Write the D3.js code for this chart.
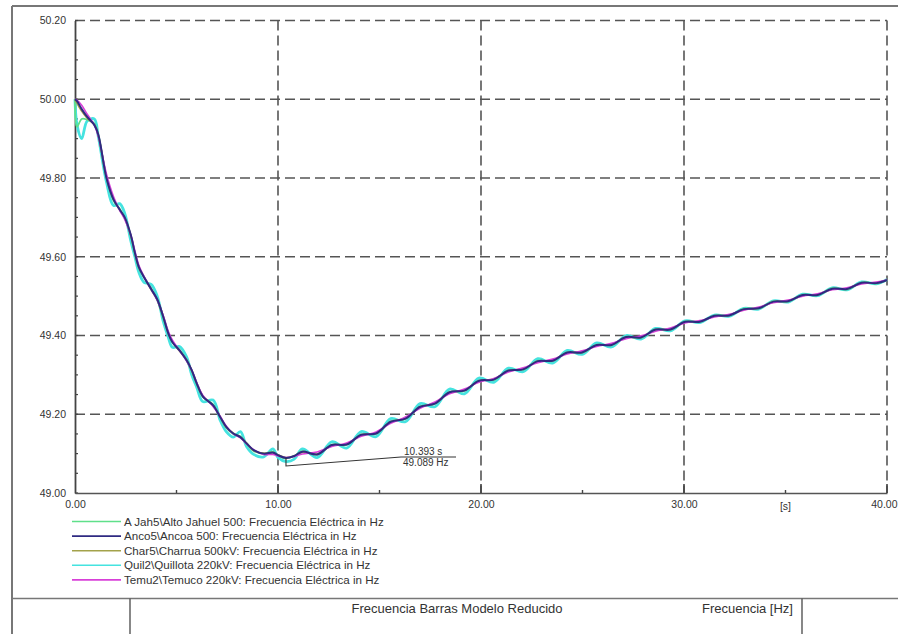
<!DOCTYPE html>
<html>
<head>
<meta charset="utf-8">
<script src="https://cdn.jsdelivr.net/npm/d3@7"></script>
<style>
  html, body { margin: 0; padding: 0; background: #fff; }
  svg { display: block; font-family: "Liberation Sans", Arial, sans-serif; }
</style>
</head>
<body>
<svg id="chart" width="898" height="634"></svg>
<script>
// Simulation time knots [s]
const timeS = [
  0, 0.1, 0.33, 0.6, 0.95, 1.15, 1.55, 1.9, 2.2, 2.45, 2.75, 2.95, 3.15, 3.4, 3.75,
  4.05, 4.35, 4.6, 4.8, 5.15, 5.5, 5.75, 6.0, 6.3, 6.8, 7.15, 7.45, 7.8, 8.15, 8.45,
  8.8, 9.3, 9.75, 10.0, 10.393, 10.8,
  11.2, 11.93, 12.65, 13.38, 14.1, 14.83, 15.55, 16.28, 17.0, 17.73, 18.45, 19.18,
  19.9, 20.63, 21.35, 22.08, 22.8, 23.53, 24.25, 24.98, 25.7, 26.43, 27.15, 27.88,
  28.6, 29.33, 30.05, 30.78, 31.5, 32.23, 32.95, 33.68, 34.4, 35.13, 35.85, 36.58,
  37.3, 38.03, 38.75, 39.48, 40.0
];

// Bus frequencies [Hz]
const freqAJah5 = [
  50.000, 49.930, 49.950, 49.948, 49.938, 49.908, 49.800, 49.742, 49.722, 49.698,
  49.652, 49.608, 49.570, 49.548, 49.520, 49.490, 49.444, 49.404, 49.382, 49.364,
  49.336, 49.310, 49.276, 49.244, 49.225, 49.192, 49.166, 49.150, 49.144, 49.125,
  49.107, 49.100, 49.105, 49.095, 49.088, 49.094,
  49.106, 49.097, 49.123, 49.122, 49.149, 49.150, 49.182, 49.188, 49.220, 49.226,
  49.257, 49.259, 49.286, 49.287, 49.312, 49.313, 49.336, 49.335, 49.358, 49.356,
  49.377, 49.375, 49.397, 49.394, 49.416, 49.414, 49.436, 49.434, 49.451, 49.450,
  49.468, 49.468, 49.487, 49.486, 49.504, 49.502, 49.520, 49.517, 49.535, 49.532, 49.541
];
const freqAnco5 = [
  50.000, 49.995, 49.975, 49.955, 49.935, 49.910, 49.800, 49.745, 49.720, 49.700,
  49.655, 49.610, 49.573, 49.548, 49.518, 49.492, 49.447, 49.405, 49.383, 49.362,
  49.337, 49.312, 49.278, 49.245, 49.223, 49.193, 49.168, 49.151, 49.142, 49.126,
  49.109, 49.100, 49.103, 49.096, 49.089, 49.094,
  49.105, 49.098, 49.122, 49.123, 49.148, 49.151, 49.181, 49.189, 49.219, 49.227,
  49.256, 49.260, 49.285, 49.288, 49.311, 49.314, 49.335, 49.336, 49.357, 49.357,
  49.376, 49.376, 49.396, 49.395, 49.415, 49.415, 49.435, 49.435, 49.450, 49.451,
  49.467, 49.469, 49.486, 49.487, 49.503, 49.503, 49.519, 49.518, 49.534, 49.533, 49.541
];
const freqChar5 = [
  50.000, 49.990, 49.970, 49.952, 49.935, 49.908, 49.802, 49.746, 49.719, 49.699,
  49.654, 49.610, 49.574, 49.549, 49.517, 49.491, 49.448, 49.406, 49.384, 49.361,
  49.338, 49.311, 49.279, 49.246, 49.222, 49.194, 49.167, 49.152, 49.141, 49.127,
  49.108, 49.101, 49.102, 49.097, 49.090, 49.094,
  49.104, 49.099, 49.121, 49.124, 49.147, 49.152, 49.180, 49.190, 49.218, 49.228,
  49.255, 49.261, 49.284, 49.289, 49.310, 49.315, 49.334, 49.337, 49.356, 49.358,
  49.375, 49.377, 49.395, 49.396, 49.414, 49.416, 49.434, 49.436, 49.449, 49.452,
  49.466, 49.470, 49.485, 49.488, 49.502, 49.504, 49.518, 49.519, 49.533, 49.534, 49.541
];
const freqQuil2 = [
  50.000, 49.935, 49.900, 49.945, 49.950, 49.905, 49.790, 49.730, 49.735, 49.710,
  49.640, 49.600, 49.560, 49.535, 49.530, 49.500, 49.435, 49.395, 49.370, 49.372,
  49.345, 49.300, 49.268, 49.232, 49.236, 49.185, 49.156, 49.142, 49.156, 49.118,
  49.098, 49.092, 49.112, 49.090, 49.080, 49.086,
  49.112, 49.090, 49.130, 49.114, 49.156, 49.143, 49.189, 49.181, 49.227, 49.219,
  49.264, 49.252, 49.292, 49.281, 49.317, 49.308, 49.341, 49.330, 49.362, 49.352,
  49.381, 49.371, 49.400, 49.391, 49.418, 49.412, 49.437, 49.433, 49.452, 49.449,
  49.469, 49.467, 49.488, 49.485, 49.505, 49.501, 49.521, 49.516, 49.536, 49.531, 49.542
];
const freqTemu2 = [
  50.000, 49.998, 49.985, 49.962, 49.935, 49.905, 49.810, 49.752, 49.718, 49.695,
  49.655, 49.615, 49.578, 49.550, 49.518, 49.490, 49.450, 49.410, 49.388, 49.362,
  49.335, 49.312, 49.280, 49.248, 49.220, 49.195, 49.170, 49.150, 49.140, 49.125,
  49.110, 49.098, 49.098, 49.094, 49.090, 49.093,
  49.099, 49.104, 49.118, 49.127, 49.144, 49.155, 49.177, 49.193, 49.215, 49.231,
  49.252, 49.264, 49.281, 49.291, 49.307, 49.318, 49.331, 49.340, 49.353, 49.361,
  49.372, 49.380, 49.392, 49.399, 49.411, 49.419, 49.432, 49.438, 49.447, 49.454,
  49.464, 49.472, 49.483, 49.490, 49.500, 49.506, 49.516, 49.521, 49.531, 49.536, 49.541
];

const legendLabels = [
  "A Jah5\\Alto Jahuel 500: Frecuencia Eléctrica in Hz",
  "Anco5\\Ancoa 500: Frecuencia Eléctrica in Hz",
  "Char5\\Charrua 500kV: Frecuencia Eléctrica in Hz",
  "Quil2\\Quillota 220kV: Frecuencia Eléctrica in Hz",
  "Temu2\\Temuco 220kV: Frecuencia Eléctrica in Hz"
];
const seriesColors = ["#5fe08a", "#2f2a82", "#a3a24a", "#45e3e0", "#d840d8"];

const yTicks = [49.0, 49.2, 49.4, 49.6, 49.8, 50.0, 50.2];
const xTicks = [0, 10, 20, 30, 40];
const xMinorTicks = [5, 15, 25, 35];
const xUnitLabel = "[s]";

const markerTime = 10.393;
const markerFreq = 49.089;

const titleText = "Frecuencia Barras Modelo Reducido";
const unitText = "Frecuencia [Hz]";

// ---- layout ----
const svg = d3.select("#chart");
const W = 898, H = 634;
const x = d3.scaleLinear().domain([0, 40]).range([75, 887]);
const y = d3.scaleLinear().domain([49.0, 50.2]).range([493, 20.5]);
const gridColor = "#555";
const textColor = "#333";
const tickFont = 10.5;

// outer frame (top and left edges)
svg.append("line").attr("x1", 12).attr("x2", W).attr("y1", 6).attr("y2", 6)
  .attr("stroke", "#777").attr("stroke-width", 2);
svg.append("line").attr("x1", 12).attr("x2", 12).attr("y1", 6).attr("y2", H)
  .attr("stroke", "#777").attr("stroke-width", 2);

// dashed grid
const grid = svg.append("g");
grid.selectAll("line.h").data(yTicks.filter(v => v > 49.0)).join("line")
  .attr("x1", x(0)).attr("x2", x(40))
  .attr("y1", d => y(d)).attr("y2", d => y(d))
  .attr("stroke", gridColor).attr("stroke-width", 1.6)
  .attr("stroke-dasharray", "10,5");
grid.selectAll("line.v").data(xTicks.filter(v => v > 0)).join("line")
  .attr("x1", d => x(d)).attr("x2", d => x(d))
  .attr("y1", y(50.2)).attr("y2", y(49.0))
  .attr("stroke", gridColor).attr("stroke-width", 1.6)
  .attr("stroke-dasharray", "10,5");

// y axis
const yAxis = d3.axisLeft(y).tickValues(yTicks).tickSize(0).tickPadding(9)
  .tickFormat(d3.format(".2f"));
const gy = svg.append("g").attr("transform", `translate(${x(0)},0)`).call(yAxis);
gy.select(".domain").attr("stroke", "#444").attr("stroke-width", 1.8);
gy.selectAll("text").attr("fill", textColor).attr("font-size", tickFont)
  .attr("font-family", "Liberation Sans, Arial, sans-serif");
// minor y ticks
svg.append("g").selectAll("line")
  .data(d3.range(0, 25).map(i => 49.0 + i * 0.05))
  .join("line")
  .attr("x1", x(0)).attr("x2", x(0) + 3)
  .attr("y1", d => y(d)).attr("y2", d => y(d))
  .attr("stroke", "#444").attr("stroke-width", 1.2);

// x axis
const xAxis = d3.axisBottom(x).tickValues(xTicks).tickSize(0).tickPadding(8)
  .tickFormat(d3.format(".2f"));
const gx = svg.append("g").attr("transform", `translate(0,${y(49.0)})`).call(xAxis);
gx.select(".domain").attr("stroke", "#555").attr("stroke-width", 1.6);
gx.selectAll("text").attr("fill", textColor).attr("font-size", tickFont)
  .attr("font-family", "Liberation Sans, Arial, sans-serif");
// last label kept inside the page edge
gx.selectAll(".tick").filter(d => d === 40).select("text")
  .attr("text-anchor", "end").attr("x", W - 1 - x(40));
// major ticks pointing up
svg.append("g").selectAll("line").data(xTicks.filter(v => v > 0)).join("line")
  .attr("x1", d => x(d)).attr("x2", d => x(d))
  .attr("y1", y(49.0)).attr("y2", y(49.0) - 9)
  .attr("stroke", "#444").attr("stroke-width", 1.6);
// minor ticks
svg.append("g").selectAll("line").data(xMinorTicks).join("line")
  .attr("x1", d => x(d)).attr("x2", d => x(d))
  .attr("y1", y(49.0)).attr("y2", y(49.0) - 3)
  .attr("stroke", "#444").attr("stroke-width", 1.4);
// unit label in place of the 35 s tick label
svg.append("text").attr("x", x(35)).attr("y", y(49.0) + 17)
  .attr("text-anchor", "middle").attr("font-size", tickFont).attr("fill", textColor)
  .text(xUnitLabel);

// curves
const seriesData = [freqAJah5, freqAnco5, freqChar5, freqQuil2, freqTemu2];
const line = d3.line()
  .x(d => x(d[0])).y(d => y(d[1]))
  .curve(d3.curveCatmullRom.alpha(0.5));
const drawOrder = [3, 0, 2, 4, 1];
const widths = [1.8, 2.0, 1.8, 2.8, 1.6];
const curves = svg.append("g");
drawOrder.forEach(i => {
  curves.append("path")
    .datum(timeS.map((t, k) => [t, seriesData[i][k]]))
    .attr("d", line)
    .attr("fill", "none")
    .attr("stroke", seriesColors[i])
    .attr("stroke-width", widths[i])
    .attr("stroke-linejoin", "round");
});

// minimum marker annotation
const mx = x(markerTime), my = y(markerFreq);
const labelLeft = 401, labelRight = 456, labelMid = 457;
svg.append("path")
  .attr("d", `M${mx},${my} L${mx},${my + 8} L${labelLeft},${labelMid} L${labelRight},${labelMid}`)
  .attr("fill", "none").attr("stroke", "#333").attr("stroke-width", 1.1);
svg.append("text").attr("x", 404).attr("y", labelMid - 2)
  .attr("font-size", 10).attr("fill", "#333")
  .text(`${markerTime.toFixed(3)} s`);
svg.append("text").attr("x", 403).attr("y", labelMid + 9)
  .attr("font-size", 10).attr("fill", "#333")
  .text(`${markerFreq.toFixed(3)} Hz`);

// legend
const legend = svg.append("g");
legendLabels.forEach((lab, i) => {
  const ly = 521.5 + i * 14.6;
  legend.append("line").attr("x1", 72).attr("x2", 121).attr("y1", ly).attr("y2", ly)
    .attr("stroke", seriesColors[i]).attr("stroke-width", 1.6);
  legend.append("text").attr("x", 124).attr("y", ly + 4)
    .attr("font-size", 11.6).attr("fill", "#333").text(lab);
});

// title block
svg.append("line").attr("x1", 12).attr("x2", W).attr("y1", 598.5).attr("y2", 598.5)
  .attr("stroke", "#777").attr("stroke-width", 1.6);
svg.append("line").attr("x1", 130).attr("x2", 130).attr("y1", 598.5).attr("y2", H)
  .attr("stroke", "#555").attr("stroke-width", 1.4);
svg.append("line").attr("x1", 802).attr("x2", 802).attr("y1", 598.5).attr("y2", H)
  .attr("stroke", "#555").attr("stroke-width", 1.4);
svg.append("text").attr("x", 457).attr("y", 613).attr("text-anchor", "middle")
  .attr("font-size", 13).attr("fill", "#333").text(titleText);
svg.append("text").attr("x", 793).attr("y", 613).attr("text-anchor", "end")
  .attr("font-size", 13).attr("fill", "#333").text(unitText);
</script>
</body>
</html>
